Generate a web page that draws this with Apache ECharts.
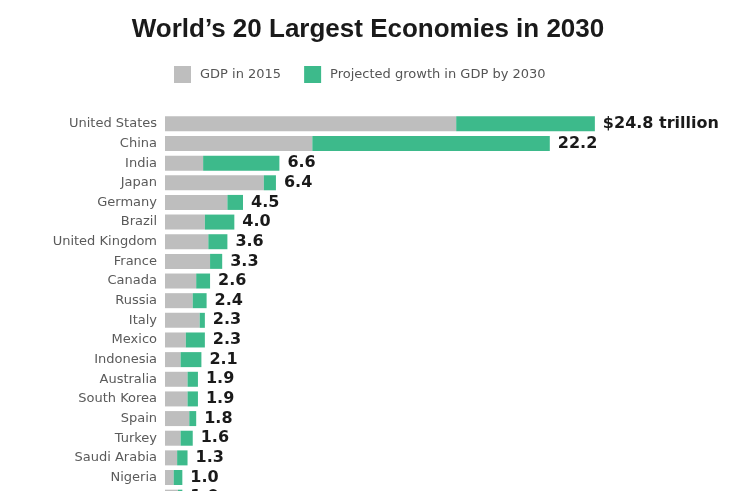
<!DOCTYPE html>
<html>
<head>
<meta charset="utf-8">
<script src="https://cdn.jsdelivr.net/npm/echarts@6/dist/echarts.min.js"></script>
<style>html,body{margin:0;padding:0;background:#fff;}#chart{width:736px;height:491px;}</style>
</head>
<body>
<div id="chart"></div>
<script>
var countries = ["United States","China","India","Japan","Germany","Brazil","United Kingdom","France","Canada","Russia","Italy","Mexico","Indonesia","Australia","South Korea","Spain","Turkey","Saudi Arabia","Nigeria","Netherlands"];
var gdp2015 = [16.8, 8.5, 2.2, 5.7, 3.6, 2.3, 2.5, 2.6, 1.8, 1.6, 2.0, 1.2, 0.9, 1.3, 1.3, 1.4, 0.9, 0.7, 0.5, 0.75];
var gdp2030 = [24.8, 22.2, 6.6, 6.4, 4.5, 4.0, 3.6, 3.3, 2.6, 2.4, 2.3, 2.3, 2.1, 1.9, 1.9, 1.8, 1.6, 1.3, 1.0, 1.0];
var growth = gdp2030.map(function(v, i){ return +(v - gdp2015[i]).toFixed(2); });

var chart = echarts.init(document.getElementById('chart'), null, {renderer:'canvas'});
chart.setOption({
  animation: false,
  backgroundColor: '#ffffff',
  title: {
    text: "World\u2019s 20 Largest Economies in 2030",
    left: 'center', top: 12,
    textStyle: {fontFamily: 'Liberation Sans', fontWeight: 'bold', fontSize: 26, color: '#1a1a1a'}
  },
  legend: {
    top: 61, left: 169,
    itemWidth: 17, itemHeight: 17, itemGap: 23,
    icon: 'rect',
    textStyle: {fontFamily: 'DejaVu Sans', fontSize: 13, color: '#555', padding: [0,0,0,4]},
    data: ['GDP in 2015', 'Projected growth in GDP by 2030']
  },
  grid: {left: 165, top: 114, width: 520, height: 393, containLabel: false, outerBoundsMode: 'none'},
  xAxis: {type: 'value', min: 0, max: 30, show: false},
  yAxis: {
    type: 'category', data: countries, inverse: true,
    axisLine: {show: false}, axisTick: {show: false},
    axisLabel: {fontFamily: 'DejaVu Sans', fontSize: 13, color: '#5a5a5a', margin: 8}
  },
  series: [
    {name: 'GDP in 2015', type: 'bar', stack: 'gdp', data: gdp2015, barWidth: 15,
     itemStyle: {color: '#bebebe'}},
    {name: 'Projected growth in GDP by 2030', type: 'bar', stack: 'gdp', data: growth, barWidth: 15,
     itemStyle: {color: '#3dba8b'},
     label: {show: true, position: 'right', distance: 8,
       fontFamily: 'DejaVu Sans', fontWeight: 'bold', fontSize: 16, color: '#1a1a1a',
       formatter: function(p){ var v = gdp2030[p.dataIndex].toFixed(1); return p.dataIndex === 0 ? '$' + v + ' trillion' : v; }}}
  ]
});
</script>
</body>
</html>
